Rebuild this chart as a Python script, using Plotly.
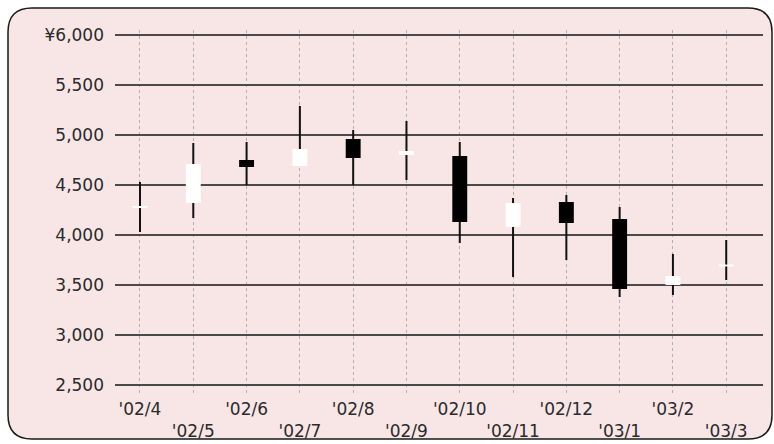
import plotly.graph_objects as go

months = ["'02/4", "'02/5", "'02/6", "'02/7", "'02/8", "'02/9",
          "'02/10", "'02/11", "'02/12", "'03/1", "'03/2", "'03/3"]
open_ = [4270, 4320, 4750, 4690, 4960, 4800, 4790, 4080, 4330, 4160, 3500, 3685]
close = [4290, 4710, 4680, 4860, 4770, 4840, 4130, 4320, 4120, 3460, 3590, 3705]
high = [4530, 4920, 4930, 5290, 5050, 5140, 4930, 4370, 4400, 4280, 3810, 3950]
low = [4030, 4170, 4500, 4690, 4500, 4550, 3920, 3580, 3750, 3380, 3400, 3550]

y_ticks = [2500, 3000, 3500, 4000, 4500, 5000, 5500, 6000]
y_ticktext = ["2,500", "3,000", "3,500", "4,000", "4,500", "5,000", "5,500", "¥6,000"]

W, H = 774, 444
ML, MR, MT, MB = 115, 11, 30, 51
PW, PH = W - ML - MR, H - MT - MB

FONT = "DejaVu Sans"
TXT = "#2a2a2a"
PINK = "#f8e6e6"

# wicks (upper and lower separate so bodies sit on top cleanly)
wx, wy = [], []
for m, o, c, h, l in zip(months, open_, close, high, low):
    top, bot = max(o, c), min(o, c)
    wx += [m, m, None, m, m, None]
    wy += [h, top, None, bot, l, None]

fig = go.Figure()
fig.add_trace(go.Scatter(x=wx, y=wy, mode="lines",
                         line=dict(color="#111111", width=2),
                         hoverinfo="skip", showlegend=False))

bases = [min(o, c) for o, c in zip(open_, close)]
heights = [abs(c - o) for o, c in zip(open_, close)]
colors = ["#ffffff" if c >= o else "#000000" for o, c in zip(open_, close)]
fig.add_trace(go.Bar(x=months, y=heights, base=bases, width=0.28,
                     marker=dict(color=colors, line=dict(width=0)),
                     hoverinfo="skip", showlegend=False))

# staggered x tick labels
xt = [m if i % 2 == 0 else "<br>" + m for i, m in enumerate(months)]


def px2paper(px, py):
    return (px - ML) / PW, 1 - (py - MT) / PH


x0, y0, x1, y1, r = 8, 8, 772, 439, 24


def P(px, py):
    a, b = px2paper(px, py)
    return f"{a:.5f},{b:.5f}"


path = (f"M {P(x0 + r, y0)} L {P(x1 - r, y0)} Q {P(x1, y0)} {P(x1, y0 + r)} "
        f"L {P(x1, y1 - r)} Q {P(x1, y1)} {P(x1 - r, y1)} "
        f"L {P(x0 + r, y1)} Q {P(x0, y1)} {P(x0, y1 - r)} "
        f"L {P(x0, y0 + r)} Q {P(x0, y0)} {P(x0 + r, y0)} Z")

fig.update_layout(
    width=W, height=H,
    margin=dict(l=ML, r=MR, t=MT, b=MB, pad=0, autoexpand=False),
    paper_bgcolor="#ffffff",
    plot_bgcolor="rgba(0,0,0,0)",
    barmode="overlay",
    showlegend=False,
    font=dict(family=FONT, size=17, color=TXT),
    shapes=[dict(type="path", path=path, xref="paper", yref="paper",
                 fillcolor=PINK, line=dict(color="#1a1a1a", width=1.5),
                 layer="below")],
    xaxis=dict(type="category", range=[-0.469, 11.69],
               tickmode="array", tickvals=months, ticktext=xt,
               tickangle=0, automargin=False,
               showgrid=True, gridcolor="#b0b0b0", gridwidth=1, griddash="dot",
               showline=False, zeroline=False, ticks="",
               tickfont=dict(family=FONT, size=17, color=TXT),
               ticklabelstandoff=4),
    yaxis=dict(range=[2420, 6050], tickmode="array",
               tickvals=y_ticks, ticktext=y_ticktext, automargin=False,
               showgrid=True, gridcolor="#4a4a4a", gridwidth=2,
               showline=False, zeroline=False, ticks="",
               tickfont=dict(family=FONT, size=17, color=TXT),
               ticklabelstandoff=10),
)

fig.write_html("out.html")
